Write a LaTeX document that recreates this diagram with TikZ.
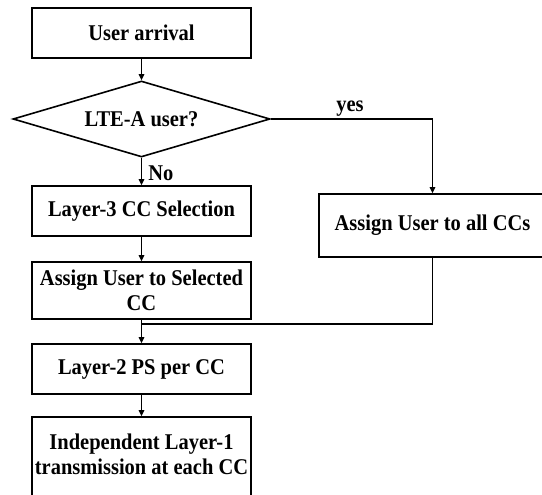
\documentclass[tikz,border=0pt]{standalone}
\usepackage{fontspec}
\setmainfont{Liberation Serif}[FakeStretch=0.91]
\usetikzlibrary{shapes.geometric,arrows.meta}
\tikzset{
  txt/.style={font=\fontsize{22.5}{24.5}\selectfont\bfseries},
  base/.style={draw=black,line width=1.6pt,txt,align=center,inner sep=0pt,fill=white},
  stepbox/.style={base,rectangle,minimum width=219pt},
  decision/.style={base,diamond,aspect=3.38,minimum width=257pt,minimum height=76pt},
  flow/.style={draw=black,line width=1.6pt,-{Triangle[length=6pt,width=5.5pt]}},
  mergeline/.style={draw=black,line width=1.6pt},
  lbl/.style={txt,inner sep=0pt}
}
\begin{document}
\begin{tikzpicture}[x=1pt,y=-1pt]
  \useasboundingbox (0,0) rectangle (542,495);
  \fill[white] (0,0) rectangle (542,495);
  \clip (0,0) rectangle (542,495);

  % left column
  \node[stepbox,minimum height=50pt] (arrive) at (141.5,33) {User arrival};
  \node[decision] (lte) at (141.5,119) {LTE-A user?};
  \node[stepbox,minimum height=50pt] (sel) at (141.5,211) {Layer-3 CC Selection};
  \node[stepbox,minimum height=57pt] (asgsel) at (141.5,290.5) {Assign User to Selected\\CC};
  \node[stepbox,minimum height=96pt,text depth=22pt] (phy) at (141.5,465) {Independent Layer-1\\transmission at each CC};

  % right branch
  \node[stepbox,minimum width=227pt,minimum height=63pt] (asgall) at (432.5,225.5) {Assign User to all CCs};

  \node[stepbox,minimum height=50pt] (ps) at (141.5,369) {Layer-2 PS per CC};

  % merge point of both branches
  \coordinate (merge) at (141.5,324);

  % connectors
  \draw[flow] (arrive.south) -- (lte.north);
  \draw[flow] (lte.south) -- node[lbl,right=6pt,pos=0.55] {No} (sel.north);
  \draw[flow] (lte.east) -| node[lbl,above=2pt,pos=0.245] {yes} (asgall.north);
  \draw[flow] (sel.south) -- (asgsel.north);
  \draw[mergeline] (asgall.south) |- (merge);
  \draw[flow] (asgsel.south) -- (ps.north);
  \draw[flow] (ps.south) -- (phy.north);
\end{tikzpicture}
\end{document}
